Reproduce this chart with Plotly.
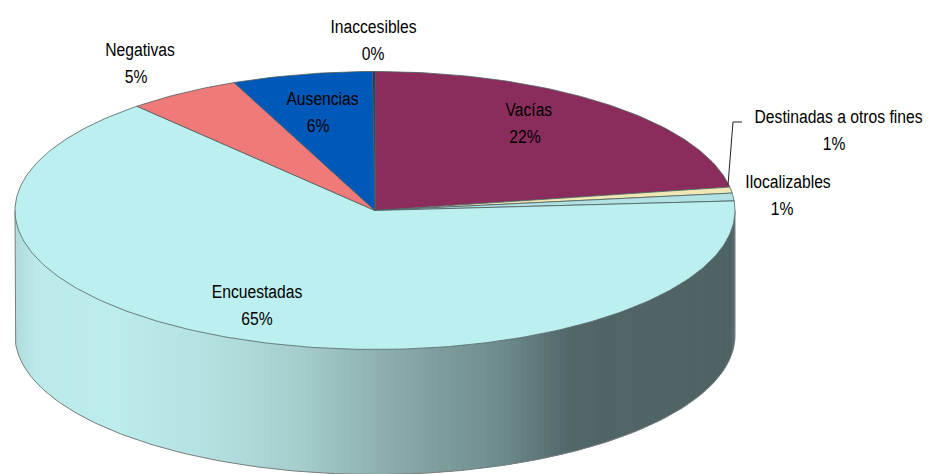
import math
import plotly.graph_objects as go

categories = ["Vacías", "Destinadas a otros fines", "Ilocalizables", "Encuestadas",
              "Negativas", "Ausencias", "Inaccesibles"]
values = [22.3, 0.7, 0.9, 64.6, 5.1, 6.3, 0.1]
colors = ["#8b2d5c", "#efe8b4", "#b2e2e4", "#bcefef", "#f07a7a", "#0059b8", "#1c2a5e"]
label_x = [529, 838, 788, 257, 140, 322, 373]
label_y = [110, 117, 182, 292, 50, 99, 27]
percent_x = [525, 834, 782, 257, 136, 318, 373]

W, H = 932, 474
CX, CY, RX, RY, DEPTH = 375, 210.5, 360, 139, 125
FONT = "Liberation Sans, Arial, sans-serif"
FS = 18
side_pos = [-1.0, -0.94, -0.72, -0.49, -0.35, -0.2, 0.07, 0.35, 0.55, 1.0]
side_col = ["#aedada", "#bbeaea", "#bcecec", "#b5e2e2", "#aed9d8", "#a4cdcb", "#88aaa8", "#6e8c8c", "#526668", "#4f6365"]


def side_color(u):
    for i in range(len(side_pos) - 1):
        if u <= side_pos[i + 1]:
            t = (u - side_pos[i]) / (side_pos[i + 1] - side_pos[i])
            a = side_col[i]
            b = side_col[i + 1]
            rgb = [round(int(a[j:j + 2], 16) * (1 - t) + int(b[j:j + 2], 16) * t) for j in (1, 3, 5)]
            return f"rgb({rgb[0]},{rgb[1]},{rgb[2]})"
    return side_col[-1]


fig = go.Figure()
d = DEPTH / RY

# side wall: thin vertical strips, data space is the unit circle
N = 180
for i in range(N):
    a0 = math.pi * i / N
    a1 = min(math.pi * (i + 1.6) / N, math.pi)
    xs0 = -math.cos(a0)
    xs1 = -math.cos(a1)
    y0 = -math.sin(a0)
    y1 = -math.sin(a1)
    fig.add_trace(go.Scatter(x=[xs0, xs1, xs1, xs0], y=[y0, y1, y1 - d, y0 - d], mode="lines",
                             fill="toself", fillcolor=side_color((xs0 + xs1) / 2), line=dict(width=0),
                             hoverinfo="skip", showlegend=False))

# wall outline
ang = [math.pi * i / 200 for i in range(201)]
ox = [-1] + [-math.cos(a) for a in ang] + [1]
oy = [0] + [-math.sin(a) - d for a in ang] + [0]
fig.add_trace(go.Scatter(x=ox, y=oy, mode="lines", line=dict(color="#777f7f", width=1),
                         hoverinfo="skip", showlegend=False))

# top slices, clockwise from twelve o'clock
total = sum(values)
cum = 0
for name, v, c in zip(categories, values, colors):
    t0 = cum / total * 2 * math.pi
    cum += v
    t1 = cum / total * 2 * math.pi
    n = max(2, int(v * 4))
    xs = [0] + [math.sin(t0 + (t1 - t0) * k / n) for k in range(n + 1)] + [0]
    ys = [0] + [math.cos(t0 + (t1 - t0) * k / n) for k in range(n + 1)] + [0]
    fig.add_trace(go.Scatter(x=xs, y=ys, mode="lines", fill="toself", fillcolor=c,
                             line=dict(color="#4f6060", width=0.8), name=name,
                             hoverinfo="name", showlegend=False))

# labels
ann = []
for name, v, lx, ly, px in zip(categories, values, label_x, label_y, percent_x):
    for txt, xx, yy in ((name, lx, ly), (f"{round(v / total * 100)}%", px, ly + 27)):
        ann.append(dict(x=xx / W, y=1 - yy / H, xref="paper", yref="paper", text=txt, showarrow=False,
                        xanchor="center", yanchor="middle", font=dict(family=FONT, size=FS, color="#000000")))

# leader line for the small slice
pts = [(728, 185), (733, 122), (742, 122)]
fig.add_trace(go.Scatter(x=[(p[0] - CX) / RX for p in pts], y=[(CY - p[1]) / RY for p in pts], mode="lines",
                         line=dict(color="#222222", width=1), hoverinfo="skip", showlegend=False))

fig.update_layout(
    width=W, height=H, margin=dict(l=0, r=0, t=0, b=0), paper_bgcolor="white", plot_bgcolor="white",
    xaxis=dict(visible=False, range=[-CX / RX, (W - CX) / RX], fixedrange=True),
    yaxis=dict(visible=False, range=[(CY - H) / RY, CY / RY], fixedrange=True),
    annotations=ann, showlegend=False,
)
narrow = """
document.body.style.margin = '0';
document.querySelectorAll('.annotation-text').forEach(function (t) {
  t.setAttribute('lengthAdjust', 'spacingAndGlyphs');
  t.setAttribute('textLength', t.getComputedTextLength() * 0.87);
});
"""
fig.write_html("out.html", config={"displayModeBar": False}, post_script=narrow)
